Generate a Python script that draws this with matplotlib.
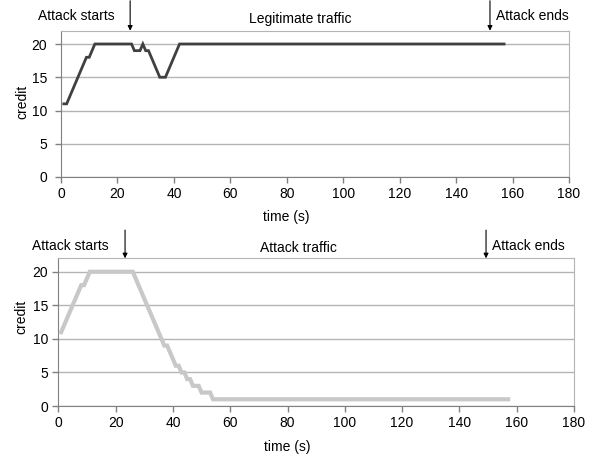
import matplotlib
matplotlib.use('Agg')
import matplotlib.pyplot as plt

plt.rcParams['font.family'] = ['Liberation Sans', 'DejaVu Sans']

# legitimate traffic: corner points (time s, credit)
legit_t = [1, 2, 9, 10, 12, 25, 26, 28, 29, 30, 31, 35, 37, 42, 157]
legit_c = [11, 11, 18, 18, 20, 20, 19, 19, 20, 19, 19, 15, 15, 20, 20]

# attack traffic: corner points
attack_t = [1, 8, 9, 11, 26, 37, 38, 41, 42, 43, 44, 45, 46, 47, 49, 50, 53, 54, 157]
attack_c = [11, 18, 18, 20, 20, 9, 9, 6, 6, 5, 5, 4, 4, 3, 3, 2, 2, 1, 1]

attack_start = [24.5, 23.3]
attack_end = [152, 149.3]
titles = ['Legitimate traffic', 'Attack traffic']

W, H = 594, 458
FS = 10
fig = plt.figure(figsize=(W / 100, H / 100), dpi=100)

boxes = [(61, 569, 30.7, 177), (58.3, 574, 258.3, 406)]
series = [(legit_t, legit_c, '#404040', 2.0), (attack_t, attack_c, '#c8c8c8', 3.0)]
# text centres in pixels: starts, title, ends, xlabel, ylabel
txt = [
    [(76, 16), (300, 19.5), (532, 15.5), (286, 217), (22, 102)],
    [(70, 246), (298, 248), (528, 246), (287, 447), (21, 317)],
]
ypad = [6, 3.5]

for i in range(2):
    l, r, t, b = boxes[i]
    ax = fig.add_axes([l / W, 1 - b / H, (r - l) / W, (b - t) / H])
    tt, cc, col, lw = series[i]
    ax.plot(tt, cc, color=col, lw=lw, solid_joinstyle='miter', zorder=3)
    ax.set_xlim(0, 180)
    ax.set_ylim(0, 22)
    ax.set_xticks(range(0, 181, 20))
    ax.set_yticks(range(0, 21, 5))
    ax.grid(axis='y', color='#b4b4b4', lw=1)
    ax.set_axisbelow(True)
    for s in ['top', 'right']:
        ax.spines[s].set_color('#b4b4b4')
    for s in ['left', 'bottom']:
        ax.spines[s].set_color('#808080')
    ax.tick_params(axis='both', colors='#808080', labelcolor='black', labelsize=FS, length=4, width=1)
    ax.tick_params(axis='y', pad=ypad[i])

    for xa in [attack_start[i], attack_end[i]]:
        ax.annotate('', xy=(xa, 22), xytext=(xa, 26.5 if i == 0 else 26.2),
                    arrowprops=dict(arrowstyle='-|>', color='black', lw=0.8, mutation_scale=7,
                                    shrinkA=0, shrinkB=0),
                    annotation_clip=False)

    (sx, sy), (tx, ty), (ex, ey), (lx, ly), (cx, cy) = txt[i]
    fig.text(sx / W, 1 - sy / H, 'Attack starts', ha='center', va='center', fontsize=FS)
    fig.text(tx / W, 1 - ty / H, titles[i], ha='center', va='center', fontsize=FS)
    fig.text(ex / W, 1 - ey / H, 'Attack ends', ha='center', va='center', fontsize=FS)
    fig.text(lx / W, 1 - ly / H, 'time (s)', ha='center', va='center', fontsize=FS)
    fig.text(cx / W, 1 - cy / H, 'credit', ha='center', va='center', fontsize=FS, rotation=90)

fig.savefig('out.png', dpi=100, facecolor='white')
